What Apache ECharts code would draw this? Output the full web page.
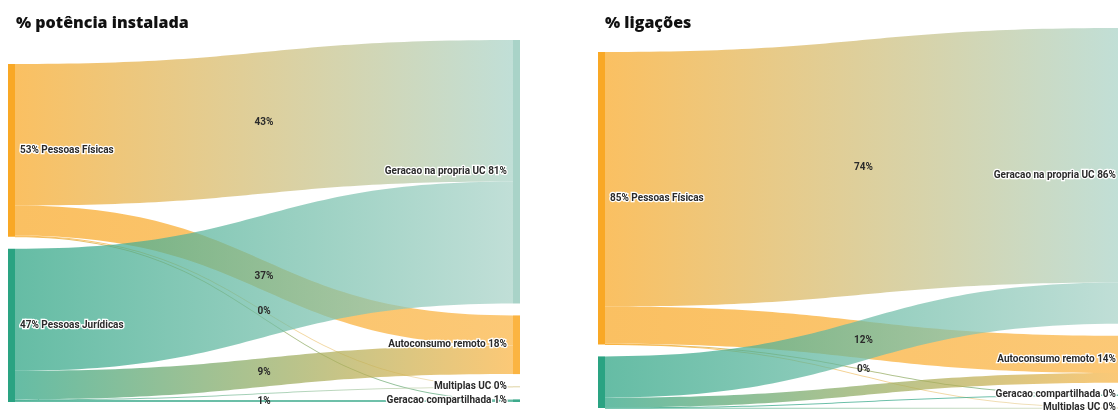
<!DOCTYPE html>
<html>
<head>
<meta charset="utf-8">
<script src="https://cdn.jsdelivr.net/npm/echarts@6/dist/echarts.min.js"></script>
<style>
html,body{margin:0;padding:0;background:#fff;}
#c{width:1118px;height:410px;}
</style>
</head>
<body>
<div id="c"></div>
<script>
// ---- data ----
const sources = ['Pessoas Físicas', 'Pessoas Jurídicas'];
const targetsPotencia = ['Geracao na propria UC', 'Autoconsumo remoto', 'Multiplas UC', 'Geracao compartilhada'];
const targetsLigacoes = ['Geracao na propria UC', 'Autoconsumo remoto', 'Geracao compartilhada', 'Multiplas UC'];
// % potência instalada (per targetsPotencia)
const potenciaPF = [43.4, 9.2, 0.2, 0.2];
const potenciaPJ = [37.4, 8.8, 0.2, 0.6];
// % ligações (per targetsLigacoes)
const ligacoesPF = [74.0, 10.8, 0.1, 0.1];
const ligacoesPJ = [12.0, 2.8, 0.1, 0.1];
// which link labels are visible
const potenciaLabelPF = [true, false, true, false];
const potenciaLabelPJ = [true, true, false, true];
const ligacoesLabelPF = [true, false, true, false];
const ligacoesLabelPJ = [true, false, false, false];
// which source node labels are visible
const potenciaSourceLabel = [true, true];
const ligacoesSourceLabel = [true, false];
const titles = ['% potência instalada', '% ligações'];

// ---- styles ----
const nodeColors = {
  'Pessoas Físicas': '#F9A825',
  'Pessoas Jurídicas': '#2AA382',
  'Geracao na propria UC': '#A9D3C8',
  'Autoconsumo remoto': '#FBB442',
  'Multiplas UC': '#E6DDB8',
  'Geracao compartilhada': '#3DAA8C'
};

function build(targets, pf, pj, lpf, lpj, srcShow) {
  const nodes = [];
  sources.forEach((n, i) => nodes.push({name: n, depth: 0, itemStyle: {color: nodeColors[n]},
    label: {show: srcShow[i], position: 'right', distance: 5,
      formatter: p => Math.round(p.value) + '% ' + p.name}}));
  targets.forEach(n => nodes.push({name: n, depth: 1, itemStyle: {color: nodeColors[n]},
    label: {position: 'left', distance: 6,
      formatter: p => p.name + ' ' + Math.round(p.value) + '%'}}));
  const links = [];
  [[pf, lpf], [pj, lpj]].forEach(([vals, shows], si) => {
    vals.forEach((v, ti) => links.push({source: sources[si], target: targets[ti], value: v,
      edgeLabel: {show: shows[ti]}}));
  });
  return {nodes, links};
}

const A = build(targetsPotencia, potenciaPF, potenciaPJ, potenciaLabelPF, potenciaLabelPJ, potenciaSourceLabel);
const B = build(targetsLigacoes, ligacoesPF, ligacoesPJ, ligacoesLabelPF, ligacoesLabelPJ, ligacoesSourceLabel);

const labelStyle = {
  fontFamily: 'Roboto', fontWeight: 'bold', fontSize: 10, color: '#2b2b2b',
  textBorderColor: '#fff', textBorderWidth: 2.5
};
const edgeLabelStyle = {
  show: true, fontFamily: 'Roboto', fontWeight: 'bold', fontSize: 10, color: '#2b2b2b',
  formatter: p => Math.round(p.value) + '%'
};

function series(d, pos) {
  return Object.assign({
    type: 'sankey',
    nodeWidth: 7,
    nodeGap: 12,
    nodeAlign: 'justify',
    layoutIterations: 32,
    draggable: false,
    data: d.nodes,
    links: d.links,
    label: labelStyle,
    edgeLabel: edgeLabelStyle,
    lineStyle: {color: 'gradient', opacity: 0.72, curveness: 0.5},
    itemStyle: {borderWidth: 0},
    emphasis: {disabled: true}
  }, pos);
}

const chart = echarts.init(document.getElementById('c'));
const titleStyle = {fontFamily: 'Open Sans', fontWeight: 800, fontSize: 16, color: '#111'};
chart.setOption({
  animation: false,
  title: [
    {text: titles[0], left: 11, top: 10, textStyle: titleStyle},
    {text: titles[1], left: 600, top: 10, textStyle: titleStyle}
  ],
  series: [
    series(A, {left: 8, top: 40, width: 512, height: 362}),
    series(B, {left: 598, top: 28, width: 531, height: 380})
  ]
});
</script>
</body>
</html>
